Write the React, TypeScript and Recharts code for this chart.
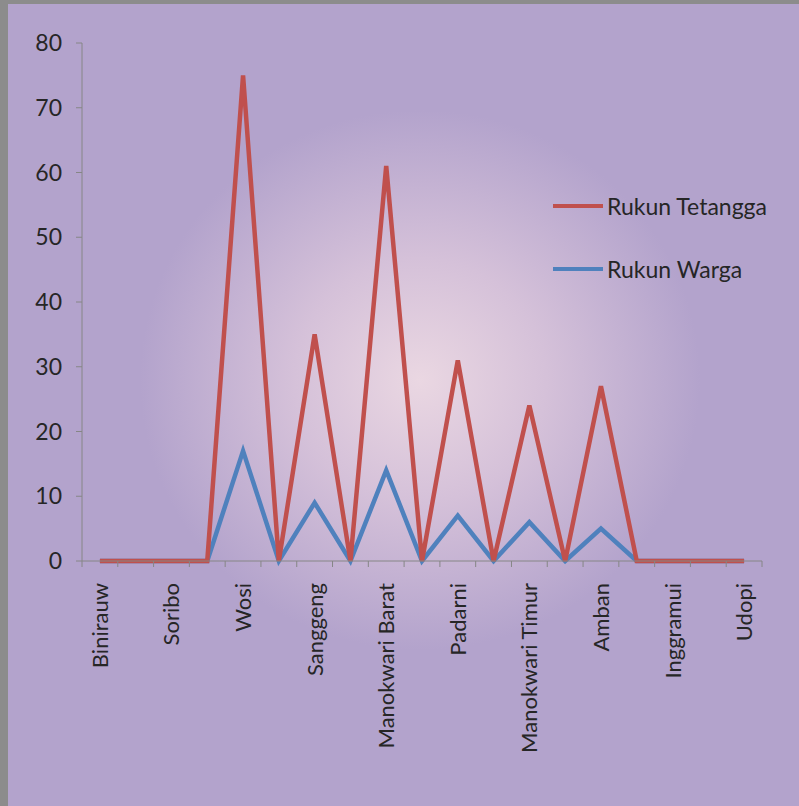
import { LineChart, Line, XAxis, YAxis, Legend } from "recharts";

// Kelurahan / distrik names; the unnamed in-between points have no visible label.
const labels = [
  "Binirauw", "", "Soribo", "", "Wosi", "", "Sanggeng", "", "Manokwari Barat", "",
  "Padarni", "", "Manokwari Timur", "", "Amban", "", "Inggramui", "", "Udopi",
];
const rukunTetangga = [0, 0, 0, 0, 75, 0, 35, 0, 61, 0, 31, 0, 24, 0, 27, 0, 0, 0, 0];
const rukunWarga = [0, 0, 0, 0, 17, 0, 9, 0, 14, 0, 7, 0, 6, 0, 5, 0, 0, 0, 0];
const yTicks = [0, 10, 20, 30, 40, 50, 60, 70, 80];
const legendOrder = ["Rukun Tetangga", "Rukun Warga"];

const data = labels.map((name, i) => ({
  name,
  rt: rukunTetangga[i],
  rw: rukunWarga[i],
}));

const FONT = "Lato, 'Open Sans', sans-serif";
const TEXT = "#262626";
const AXIS = "#868686";
const PLOT_W = 799 - 82 - 37;
const HALF = PLOT_W / labels.length / 2;

function CategoryTick(props: any) {
  const { x, y, payload, index } = props;
  return (
    <g>
      <line x1={x - HALF} x2={x - HALF} y1={y - 8} y2={y - 2} stroke={AXIS} />
      {index === labels.length - 1 && (
        <line x1={x + HALF} x2={x + HALF} y1={y - 8} y2={y - 2} stroke={AXIS} />
      )}
      {payload.value && (
        <text
          transform={`translate(${x + 8},${y + 14}) rotate(-90)`}
          textAnchor="end"
          fontSize={22}
          fontFamily={FONT}
          fill={TEXT}
        >
          {payload.value}
        </text>
      )}
    </g>
  );
}

function LegendBox(props: any) {
  const items = [...(props.payload || [])].sort(
    (a: any, b: any) => legendOrder.indexOf(a.value) - legendOrder.indexOf(b.value)
  );
  return (
    <div style={{ fontFamily: FONT, fontSize: 23, color: TEXT }}>
      {items.map((it: any) => (
        <div key={it.value} style={{ display: "flex", alignItems: "center", height: 63 }}>
          <span
            style={{ display: "inline-block", width: 50, height: 4, background: it.color, marginRight: 4 }}
          />
          {it.value}
        </div>
      ))}
    </div>
  );
}

export default function App() {
  return (
    <div
      style={{
        position: "absolute",
        left: 0,
        top: 0,
        width: 799,
        height: 806,
        background:
          "radial-gradient(ellipse 280px 270px at 420px 380px, #ead7e2 0%, #d5c1d9 45%, #b3a3cc 100%)",
        boxShadow: "inset 8px 4px 0 #8c8c8c",
      }}
    >
      <LineChart
        width={799}
        height={806}
        data={data}
        margin={{ top: 43, right: 37, left: 0, bottom: 0 }}
      >
        <XAxis
          dataKey="name"
          interval={0}
          height={245}
          padding={{ left: HALF, right: HALF }}
          stroke={AXIS}
          tickLine={false}
          tick={<CategoryTick />}
        />
        <YAxis
          width={82}
          domain={[0, 80]}
          ticks={yTicks}
          stroke={AXIS}
          tickSize={6}
          tickMargin={14}
          tick={{ fontSize: 23, fontFamily: FONT, fill: TEXT }}
        />
        <Legend
          layout="vertical"
          align="center"
          verticalAlign="middle"
          content={<LegendBox />}
          wrapperStyle={{ position: "absolute", left: 553, top: 174, width: 240 }}
        />
        <Line
          dataKey="rw"
          name="Rukun Warga"
          stroke="#4f81bd"
          strokeWidth={4.5}
          dot={false}
          isAnimationActive={false}
        />
        <Line
          dataKey="rt"
          name="Rukun Tetangga"
          stroke="#c0504d"
          strokeWidth={4.5}
          dot={false}
          isAnimationActive={false}
        />
      </LineChart>
    </div>
  );
}
